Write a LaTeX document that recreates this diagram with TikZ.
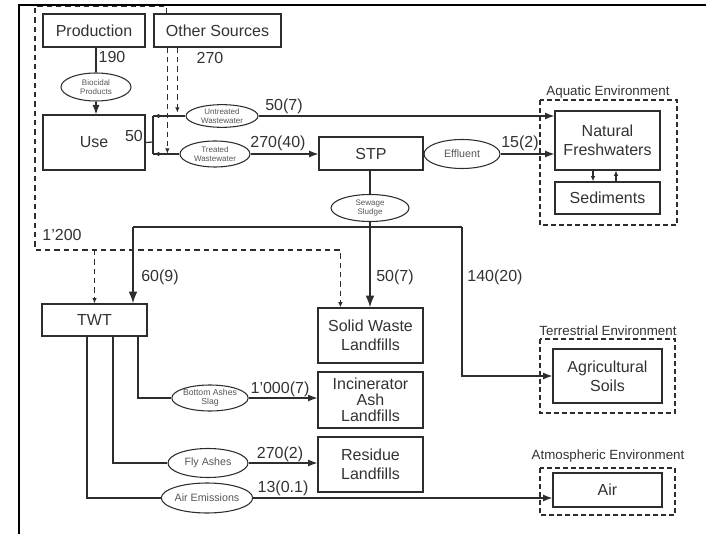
\documentclass[tikz,border=0pt]{standalone}
\usepackage{fontspec}
\setmainfont{Liberation Sans}
\usetikzlibrary{arrows.meta,calc,shapes.geometric}
\definecolor{FlowGray}{RGB}{45,45,45}
\definecolor{TextGray}{RGB}{50,50,50}
\definecolor{SoftGray}{RGB}{85,85,85}

\begin{document}
\begin{tikzpicture}[x=0.75pt,y=-0.75pt,>=Latex,
  stock/.style={draw=FlowGray,line width=0.9pt,text=TextGray,align=center,inner sep=0pt,
    font=\fontsize{12}{14}\selectfont},
  proc/.style={ellipse,draw=FlowGray,line width=0.8pt,text=SoftGray,align=center,inner sep=0pt},
  tinytext/.style={font=\fontsize{6}{6.5}\selectfont},
  smalltext/.style={font=\fontsize{8}{9}\selectfont},
  lbl/.style={text=TextGray,inner sep=0pt,font=\fontsize{12}{13}\selectfont},
  envlbl/.style={text=TextGray,inner sep=0pt,font=\fontsize{10}{11}\selectfont},
  envbox/.style={draw=FlowGray,line width=0.9pt,dash pattern=on 3.5pt off 2.5pt},
  flow/.style={draw=FlowGray,line width=0.9pt},
  sludge/.style={draw=FlowGray,line width=1.3pt},
  sarrow/.style={-{Latex[length=4pt,width=3.5pt]}},
  dflow/.style={draw=FlowGray,line width=0.9pt,dash pattern=on 4pt off 3pt,-{Latex[length=4pt,width=3.5pt]}}]
  \useasboundingbox (0,0) rectangle (706,534);
  \draw[line width=1.6pt] (19,534) -- (19,5) -- (706,5);

  % environment compartments
  \draw[envbox] (540,100) rectangle (677,225);
  \node[envlbl] at (608,92) {Aquatic Environment};
  \draw[envbox] (540,339) rectangle (675,413);
  \node[envlbl] at (608,331) {Terrestrial Environment};
  \draw[envbox] (540,468) rectangle (675,515);
  \node[envlbl] at (608,456) {Atmospheric Environment};

  % stocks
  \node[stock,minimum width=76.5pt,minimum height=24.75pt] (prod) at (94,30.5) {Production};
  \node[stock,minimum width=95.25pt,minimum height=24.75pt] (other) at (217.5,30.5) {Other Sources};
  \node[stock,minimum width=76.5pt,minimum height=41.25pt] (use) at (94,142.5) {Use};
  \node[stock,minimum width=78pt,minimum height=24.75pt] (stp) at (371,153.5) {STP};
  \node[stock,minimum width=78.75pt,minimum height=44.25pt] (nat) at (607.5,140.5) {Natural\\Freshwaters};
  \node[stock,minimum width=78.75pt,minimum height=24pt] (sed) at (607.5,198) {Sediments};
  \node[stock,minimum width=78.75pt,minimum height=24pt] (twt) at (94.5,320) {TWT};
  \node[stock,minimum width=78.75pt,minimum height=41.25pt] (swl) at (370.5,335.5) {Solid Waste\\Landfills};
  \node[stock,minimum width=78.75pt,minimum height=42pt,font=\fontsize{12}{12}\selectfont] (ial) at (370.5,400) {Incinerator\\Ash\\Landfills};
  \node[stock,minimum width=78.75pt,minimum height=41.25pt] (rl) at (370.5,464.5) {Residue\\Landfills};
  \node[stock,minimum width=81.75pt,minimum height=40.5pt] (agr) at (607.5,376) {Agricultural\\Soils};
  \node[stock,minimum width=81.75pt,minimum height=25.5pt] (air) at (607.5,490) {Air};

  % processes
  \node[proc,tinytext,minimum width=52.5pt,minimum height=21pt] (bio) at (96,87) {Biocidal\\Products};
  \node[proc,tinytext,minimum width=54pt,minimum height=17pt] (untr) at (222,116) {Untreated\\Wastewater};
  \node[proc,tinytext,minimum width=52.5pt,minimum height=19.5pt] (trt) at (215,154) {Treated\\Wastewater};
  \node[proc,smalltext,minimum width=57pt,minimum height=21.75pt] (eff) at (462,154) {Effluent};
  \node[proc,tinytext,minimum width=58.5pt,minimum height=20.25pt] (slu) at (370,208) {Sewage\\Sludge};
  \node[proc,font=\fontsize{6.5}{7}\selectfont,minimum width=57pt,minimum height=19.5pt] (bot) at (210,398) {Bottom Ashes\\Slag};
  \node[proc,smalltext,minimum width=60pt,minimum height=21.75pt] (fly) at (208,463) {Fly Ashes};
  \node[proc,smalltext,minimum width=60pt,minimum height=22.5pt] (aire) at (207,498) {Air Emissions};

  % system boundary (dashed)
  \coordinate (dc) at (35,250);
  \draw[dflow] ($(other.north west)+(13,0)$) -- ++(0,-7) -| (dc) -| ($(swl.north west)+(23,0)$);
  \draw[dflow] (dc -| twt.north) -- (twt.north);
  \draw[dflow] ($(other.south west)+(24,0)$) -- ++(0,65);
  \draw[dflow] ($(other.south west)+(14,0)$) -- ++(0,106);

  % production and use
  \draw[flow] (prod.south -| bio) -- (bio.north);
  \draw[flow,->] (bio.south) -- (bio.south |- use.north);
  \coordinate (ub) at (153,142);
  \draw[flow] (use.east) -- (ub);
  \draw[flow] (ub |- untr) -- (ub |- trt);
  \draw[flow] (ub |- untr) -- (untr.west);
  \draw[flow] (ub |- trt) -- (trt.west);
  \draw[flow,sarrow] (ub |- untr) -- ++(10,0);
  \draw[flow,sarrow] (ub |- trt) -- ++(10,0);

  % wastewater
  \draw[flow,->] (untr.east) -- (untr.east -| nat.west);
  \draw[flow,->] (trt.east) -- (trt.east -| stp.west);
  \draw[flow,->] (eff.east) -- (eff.east -| nat.west);
  \draw[flow,sarrow] ($(nat.south)+(-14.5,0)$) -- ($(sed.north)+(-14.5,0)$);
  \draw[flow,sarrow] ($(sed.north)+(8.5,0)$) -- ($(nat.south)+(8.5,0)$);

  % sewage sludge
  \coordinate (sl) at (133,227);
  \coordinate (sr) at (462,227);
  \draw[sludge] (stp.south -| slu) -- (slu.north);
  \draw[sludge] (sl) -- (sr);
  \draw[sludge,->] (slu.south) -- (slu.south |- swl.north);
  \draw[sludge,->] (sl) -- (sl |- twt.north);
  \draw[flow,->] (sr) |- (agr.west);

  % thermal waste treatment
  \draw[flow] ($(twt.south)+(43.5,0)$) |- (bot.west);
  \draw[flow,->] (bot.east) -- (bot.east -| ial.west);
  \draw[flow] ($(twt.south)+(18.5,0)$) |- (fly.west);
  \draw[flow,->] (fly.east) -- (fly.east -| rl.west);
  \draw[flow] ($(twt.south)+(-7.5,0)$) |- (aire.west);
  \draw[flow,->] (aire.east) -- (aire.east -| air.west);

  % flow values
  \node[lbl] at (112,57) {190};
  \node[lbl] at (210,58) {270};
  \node[lbl] at (134,136) {50};
  \node[lbl] at (284,106) {50(7)};
  \node[lbl] at (278,143) {270(40)};
  \node[lbl] at (520,143) {15(2)};
  \node[lbl] at (62,235) {1'200};
  \node[lbl] at (160,277) {60(9)};
  \node[lbl] at (395,277) {50(7)};
  \node[lbl] at (495,277) {140(20)};
  \node[lbl] at (280,389) {1'000(7)};
  \node[lbl] at (280,454) {270(2)};
  \node[lbl] at (283,488) {13(0.1)};
\end{tikzpicture}
\end{document}
